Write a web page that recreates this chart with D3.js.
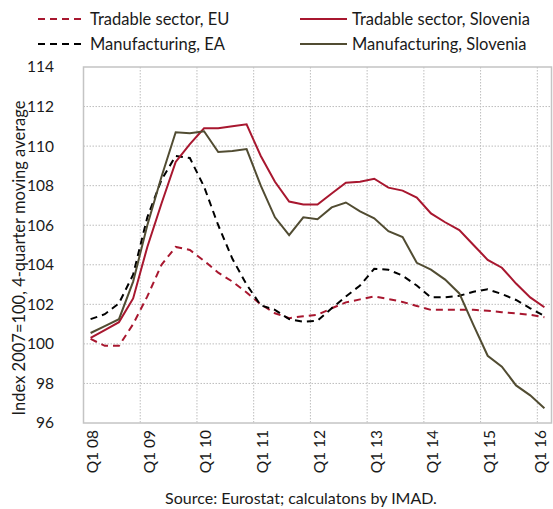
<!DOCTYPE html>
<html>
<head>
<meta charset="utf-8">
<script src="https://cdn.jsdelivr.net/npm/d3@7"></script>
<style>
  body { margin: 0; background: #fff; }
  svg text { font-family: Lato, "Open Sans", sans-serif; fill: #1a1a1a; }
</style>
</head>
<body>
<svg id="chart"></svg>
<script>
const quarters = [
  "Q1 08", "Q2 08", "Q3 08", "Q4 08", "Q1 09", "Q2 09", "Q3 09", "Q4 09",
  "Q1 10", "Q2 10", "Q3 10", "Q4 10", "Q1 11", "Q2 11", "Q3 11", "Q4 11",
  "Q1 12", "Q2 12", "Q3 12", "Q4 12", "Q1 13", "Q2 13", "Q3 13", "Q4 13",
  "Q1 14", "Q2 14", "Q3 14", "Q4 14", "Q1 15", "Q2 15", "Q3 15", "Q4 15",
  "Q1 16"
];

const tradableEU = [100.25, 99.9, 99.9, 101.0, 102.4, 104.0, 104.9, 104.75, 104.2, 103.6,
  103.15, 102.6, 102.0, 101.55, 101.3, 101.4, 101.47, 101.8, 102.1, 102.25,
  102.4, 102.27, 102.12, 101.92, 101.72, 101.72, 101.72, 101.72, 101.68, 101.6,
  101.55, 101.47, 101.35];

const tradableSlo = [100.3, 100.7, 101.1, 102.3, 104.9, 107.1, 109.2, 110.1, 110.9, 110.9,
  111.0, 111.1, 109.5, 108.2, 107.2, 107.05, 107.05, 107.6, 108.15, 108.2,
  108.35, 107.9, 107.75, 107.4, 106.6, 106.15, 105.75, 105.0, 104.25, 103.85,
  103.05, 102.35, 101.85];

const manufEA = [101.25, 101.5, 102.05, 103.5, 106.4, 108.3, 109.5, 109.4, 107.95, 106.0,
  104.3, 103.0, 101.95, 101.72, 101.25, 101.12, 101.17, 101.8, 102.4, 102.95,
  103.8, 103.75, 103.45, 102.95, 102.35, 102.36, 102.43, 102.64, 102.76, 102.52,
  102.22, 101.8, 101.41];

const manufSlo = [100.55, 100.9, 101.25, 103.15, 106.0, 108.45, 110.7, 110.65, 110.75, 109.7,
  109.75, 109.85, 108.0, 106.4, 105.5, 106.4, 106.3, 106.9, 107.15, 106.7,
  106.35, 105.7, 105.4, 104.1, 103.75, 103.25, 102.55, 100.95, 99.4, 98.85,
  97.9, 97.4, 96.75];

const yTicks = [96, 98, 100, 102, 104, 106, 108, 110, 112, 114];

const width = 553;
const height = 509;
const red = "#a8172f";
const olive = "#514c32";

const series = [
  { name: "Tradable sector, EU", values: tradableEU, color: red, dash: "7,5" },
  { name: "Manufacturing, EA", values: manufEA, color: "#000", dash: "7,5" },
  { name: "Tradable sector, Slovenia", values: tradableSlo, color: red, dash: null },
  { name: "Manufacturing, Slovenia", values: manufSlo, color: olive, dash: null }
];

const svg = d3.select("#chart").attr("width", width).attr("height", height);

const plotLeft = 83.5, plotRight = 551.5, plotTop = 67, plotBottom = 423;

const x = d3.scaleBand().domain(quarters).range([plotLeft, plotRight]).padding(0);
const y = d3.scaleLinear().domain([96, 114]).range([plotBottom, plotTop]);
const cx = (d) => x(d) + x.bandwidth() / 2;

// gridlines
const grid = svg.append("g");
grid.selectAll("line.h")
  .data(yTicks.slice(1, -1))
  .join("line")
  .attr("class", "h")
  .attr("x1", plotLeft).attr("x2", plotRight)
  .attr("y1", (d) => y(d)).attr("y2", (d) => y(d))
  .attr("stroke", "#bdbdbd").attr("stroke-width", 1).attr("stroke-dasharray", "1.5,1.5");

const labelled = quarters.filter((q, i) => i % 4 === 0);
grid.selectAll("line.v")
  .data(labelled.slice(1))
  .join("line")
  .attr("class", "v")
  .attr("x1", (d) => x(d)).attr("x2", (d) => x(d))
  .attr("y1", plotTop).attr("y2", plotBottom)
  .attr("stroke", "#bdbdbd").attr("stroke-width", 1).attr("stroke-dasharray", "1.5,1.5");

// frame
svg.append("rect")
  .attr("x", plotLeft).attr("y", plotTop)
  .attr("width", plotRight - plotLeft).attr("height", plotBottom - plotTop)
  .attr("fill", "none").attr("stroke", "#c4c4c4").attr("stroke-width", 1.5);

// y axis labels
svg.append("g")
  .selectAll("text")
  .data(yTicks)
  .join("text")
  .attr("x", 54)
  .attr("y", (d) => y(d))
  .attr("dy", "0.35em")
  .attr("text-anchor", "end")
  .attr("font-size", 15.5)
  .text((d) => d);

svg.append("text")
  .attr("transform", `translate(19,258) rotate(-90)`)
  .attr("text-anchor", "middle")
  .attr("dy", "0.35em")
  .attr("font-size", 16.5)
  .text("Index 2007=100, 4-quarter moving average");

// x axis labels (last one nudged in so it stays inside the page)
svg.append("g")
  .selectAll("text")
  .data(labelled)
  .join("text")
  .attr("transform", (d) => `translate(${Math.min(cx(d) + 2, 541)},${plotBottom + 7}) rotate(-90)`)
  .attr("text-anchor", "end")
  .attr("dy", "0.35em")
  .attr("font-size", 15.5)
  .text((d) => d);

svg.append("text")
  .attr("x", 301)
  .attr("y", 498)
  .attr("dy", "0.35em")
  .attr("text-anchor", "middle")
  .attr("font-size", 16)
  .text("Source: Eurostat; calculatons by IMAD.");

// lines
const line = d3.line()
  .x((d, i) => cx(quarters[i]))
  .y((d) => y(d));

svg.append("g")
  .selectAll("path")
  .data(series)
  .join("path")
  .attr("d", (s) => line(s.values))
  .attr("fill", "none")
  .attr("stroke", (s) => s.color)
  .attr("stroke-width", 2)
  .attr("stroke-dasharray", (s) => s.dash);

// legend
const legendPos = [[38, 19], [38, 44], [300, 19], [300, 44]];
const legend = svg.append("g")
  .selectAll("g")
  .data(series)
  .join("g")
  .attr("transform", (s, i) => `translate(${legendPos[i][0]},${legendPos[i][1]})`);

legend.append("line")
  .attr("x1", 0).attr("x2", (s) => (s.dash ? 44 : 47))
  .attr("stroke", (s) => s.color)
  .attr("stroke-width", 2)
  .attr("stroke-dasharray", (s) => s.dash);

legend.append("text")
  .attr("x", 52)
  .attr("dy", "0.35em")
  .attr("font-size", 16.5)
  .text((s) => s.name);
</script>
</body>
</html>
